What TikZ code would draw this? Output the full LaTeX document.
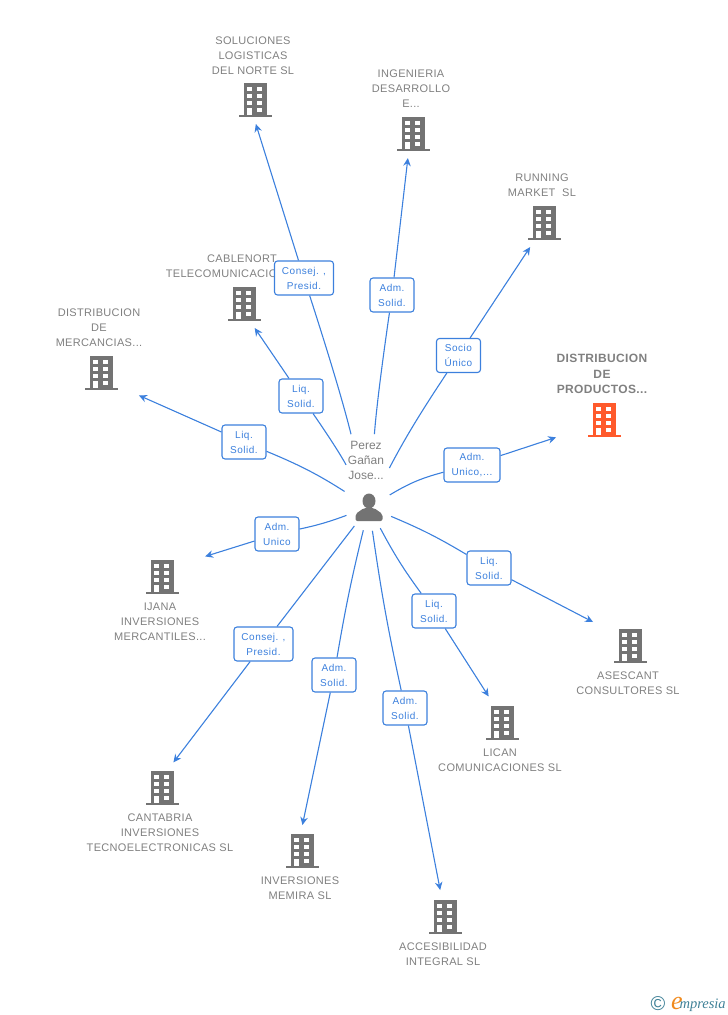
\documentclass[tikz,border=0pt]{standalone}
\usepackage{fontspec}
\usepackage{tikz}
\usetikzlibrary{arrows.meta,positioning}
\setmainfont{Liberation Sans}
\newfontfamily\namefont[LetterSpace=3]{Liberation Sans}
\newfontfamily\labfont[LetterSpace=5]{Liberation Sans}
\newfontfamily\logofont{Liberation Serif}
\definecolor{linkblue}{HTML}{3C80DD}
\definecolor{textgray}{HTML}{808080}
\definecolor{iconorange}{HTML}{FF5A2C}
\definecolor{icongray}{HTML}{737373}
\definecolor{logoteal}{HTML}{3F8197}
\definecolor{logoorange}{HTML}{F08A1D}
\newcommand{\buildingicon}[1]{
  \begin{scope}[shift={(path picture bounding box.center)}]
    \fill [#1] (-11.5,-17) rectangle (11.5,15);
    \fill [#1] (-16.5,15) rectangle (16.5,17);
    \fill [white] (-8,-13) rectangle (-3,-9);
    \fill [white] (2,-13) rectangle (7,-9);
    \fill [white] (-8,-6) rectangle (-3,-2);
    \fill [white] (2,-6) rectangle (7,-2);
    \fill [white] (-8,1) rectangle (-3,4.5);
    \fill [white] (2,1) rectangle (7,4.5);
    \fill [white] (-8,8) rectangle (-3,15);
    \fill [white] (2,8) rectangle (7,11.5);
  \end{scope}
}
\newcommand{\personicon}{
  \begin{scope}[shift={(path picture bounding box.center)}]
    \fill [icongray] (0,-6) ellipse (6.5 and 7.5);
    \fill [icongray, rounded corners=2pt] (-13.5,14) -- (-13.5,7) -- (-5,1) -- (5,1) -- (13.5,7) -- (13.5,14) -- cycle;
  \end{scope}
}
\tikzset{
  bld/.style={rectangle, minimum width=92pt, minimum height=48pt, inner sep=0pt, outer sep=0pt,
              path picture={\buildingicon{#1}}},
  bld/.default=icongray,
  cname/.style={font=\namefont\fontsize{11}{15}\selectfont, text=textgray, align=center, inner sep=0pt, xshift=-2pt},
  lab/.style={draw=linkblue, fill=white, rounded corners=3pt, line width=1.1pt, text=linkblue, align=center,
              font=\labfont\fontsize{10}{15}\selectfont, minimum height=34pt, inner sep=0pt}
}
\begin{document}
\begin{tikzpicture}[x=1pt, y=-1pt, ->, >={Stealth[length=8pt,width=7.5pt]}, line width=1.1pt, linkblue]
\useasboundingbox (0,0) rectangle (728,1015);

\node [bld] (sol) at (255,100) {};
\node [bld] (ing) at (413,134) {};
\node [bld] (run) at (544,223) {};
\node [bld=iconorange] (pro) at (604,420) {};
\node [bld] (cab) at (244,304) {};
\node [bld] (mer) at (101,373) {};
\node [bld] (ija) at (162,577) {};
\node [bld] (can) at (162,788) {};
\node [bld] (mem) at (302,851) {};
\node [bld] (acc) at (445,917) {};
\node [bld] (lic) at (502,723) {};
\node [bld] (ase) at (630,646) {};

\node [cname, above=0.5pt of sol] (tsol) {SOLUCIONES\\LOGISTICAS\\DEL NORTE SL};
\node [cname, above=1.5pt of ing] (ting) {INGENIERIA\\DESARROLLO\\E...};
\node [cname, above=1.5pt of run] (trun) {RUNNING\\MARKET\ \ SL};
\node [cname, above=1.5pt of pro, font=\namefont\fontsize{12}{15.5}\selectfont\bfseries] (tpro) {DISTRIBUCION\\DE\\PRODUCTOS...};
\node [cname, above=1.5pt of cab] (tcab) {CABLENORT\\TELECOMUNICACIONES SL};
\node [cname, above=1.5pt of mer] (tmer) {DISTRIBUCION\\DE\\MERCANCIAS...};
\node [cname, below=1.5pt of ija] (tija) {IJANA\\INVERSIONES\\MERCANTILES...};
\node [cname, below=1.5pt of can] (tcan) {CANTABRIA\\INVERSIONES\\TECNOELECTRONICAS SL};
\node [cname, below=1.5pt of mem] (tmem) {INVERSIONES\\MEMIRA SL};
\node [cname, below=1.5pt of acc] (tacc) {ACCESIBILIDAD\\INTEGRAL SL};
\node [cname, below=1.5pt of lic] (tlic) {LICAN\\COMUNICACIONES SL};
\node [cname, below=1.5pt of ase] (tase) {ASESCANT\\CONSULTORES SL};

% person in the middle
\node [circle, minimum size=48pt, inner sep=0pt, outer sep=0pt, path picture={\personicon}] (pe) at (369,507) {};
\node [font=\fontsize{12}{15}\selectfont, text=textgray, align=center, inner sep=0pt] (pname) at (366,460) {Perez\\Gañan\\Jose...};

\node [lab, minimum width=59pt] (lsol) at (304,278) {Consej. ,\\Presid.};
\node [lab, minimum width=44pt] (ling) at (392,295) {Adm.\\Solid.};
\node [lab, minimum width=44pt] (lrun) at (458.5,355.5) {Socio\\Único};
\node [lab, minimum width=56pt] (lpro) at (472,465) {Adm.\\Unico,...};
\node [lab, minimum width=44pt] (lcab) at (301,396) {Liq.\\Solid.};
\node [lab, minimum width=44pt] (lmer) at (244,442) {Liq.\\Solid.};
\node [lab, minimum width=44pt] (lija) at (277,534) {Adm.\\Unico};
\node [lab, minimum width=59pt] (lcan) at (263.5,644) {Consej. ,\\Presid.};
\node [lab, minimum width=44pt] (lmem) at (334,675) {Adm.\\Solid.};
\node [lab, minimum width=44pt] (lacc) at (405,708) {Adm.\\Solid.};
\node [lab, minimum width=44pt] (llic) at (434,611) {Liq.\\Solid.};
\node [lab, minimum width=44pt] (lase) at (489,568) {Liq.\\Solid.};

\path [-] (pe) edge [bend right=2, shorten <=51pt] (lsol);
\path [-] (pe) edge [bend left=2, shorten <=49pt] (ling);
\path [-] (pe) edge [bend left=3, shorten <=20pt] (lrun);
\path [-] (pe) edge [bend left=8] (lpro);
\path [-] (pe) edge [bend right=3, shorten <=24pt] (lcab);
\path [-] (pe) edge [bend right=5, shorten <=5pt] (lmer);
\path [-] (pe) edge [bend left=4] (lija);
\path [-] (pe) edge (lcan);
\path [-] (pe) edge [bend right=2] (lmem);
\path [-] (pe) edge [bend right=2] (lacc);
\path [-] (pe) edge [bend right=4] (llic);
\path [-] (pe) edge [bend left=4] (lase);

\path (lsol) edge (sol.-88);
\path (ling) edge (ing.-102);
\path (lrun) edge (run.-120);
\path (lpro) edge [shorten >=2pt] (pro.-160);
\path (lcab) edge (cab.-66);
\path (lmer) edge [shorten >=-4pt] (mer.-30);
\path (lija) edge [shorten >=-3pt] (ija.25);
\path (lcan) edge [shorten >=2pt] (can.67);
\path (lmem) edge [shorten >=2pt] (mem.north);
\path (lacc) edge [shorten >=3pt] (acc.100);
\path (llic) edge [shorten >=3pt] (lic.116);
\path (lase) edge (ase.147);

% logo
\node [font=\fontsize{20}{20}\selectfont, text=logoteal, inner sep=0pt] (lgc) at (658,1004) {©};
\node [font=\logofont\itshape\fontsize{26}{26}\selectfont, text=logoorange, inner sep=0pt] (lge) at (677,1003) {e};
\node [font=\logofont\itshape\fontsize{14.5}{15}\selectfont, text=logoteal, inner sep=0pt, anchor=west] (lgm) at (679,1005) {mpresia};
\end{tikzpicture}
\end{document}
